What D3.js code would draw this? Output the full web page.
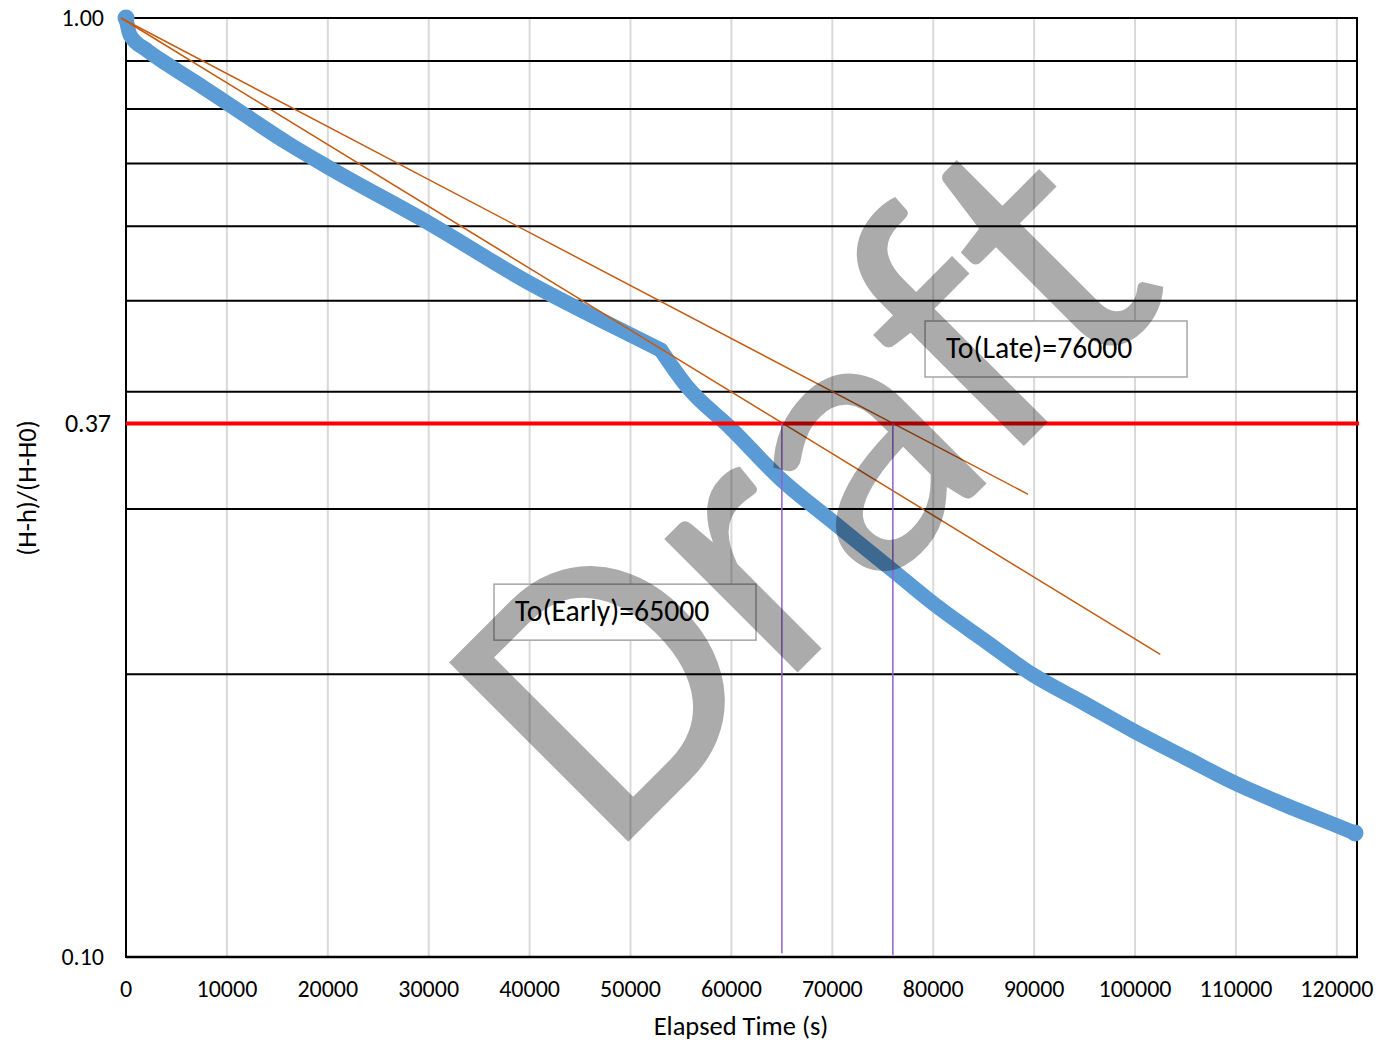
<!DOCTYPE html>
<html>
<head>
<meta charset="utf-8">
<script src="https://cdn.jsdelivr.net/npm/d3@7"></script>
<style>
  html, body { margin: 0; padding: 0; background: #ffffff; }
  svg { display: block; }
  text { font-family: Carlito, Calibri, Lato, sans-serif; fill: #000; }
</style>
</head>
<body>
<svg id="chart" width="1378" height="1045"></svg>
<script>
// ---------------- data ----------------
const timeS = [0, 400, 2080, 4360, 7630, 10000, 16000, 20000, 30000, 40000, 47700, 53000,
  55600, 59900, 65000, 70000, 76000, 80000, 85000, 89900, 94900, 99900, 105000, 110000,
  115000, 120000, 121800];
const ratio = [1.0, 0.959, 0.924, 0.889, 0.844, 0.812, 0.736, 0.694, 0.605, 0.522, 0.473, 0.443,
  0.405, 0.366, 0.322, 0.291, 0.258, 0.238, 0.2176, 0.1997, 0.1865, 0.174, 0.163, 0.153,
  0.145, 0.138, 0.1355];
const kinkIndex = 11;   // slope break at t = 53000 s

const xTickValues = [0, 10000, 20000, 30000, 40000, 50000, 60000, 70000, 80000, 90000, 100000, 110000, 120000];
const yGridValues = [0.2, 0.3, 0.4, 0.5, 0.6, 0.7, 0.8, 0.9, 1.0];
const yTickValues = [1.0, 0.37, 0.1];
const yTickLabels = ["1.00", "0.37", "0.10"];

const eFoldRatio = 0.37;
const t0Values = [65000, 76000];            // To(Early), To(Late)
const t0LineBottom = [0.1009, 0.1005];

const fitEarlyT = [-500, 102500];
const fitEarlyR = [1.0, 0.21];
const fitLateT = [-500, 89400];
const fitLateR = [1.0, 0.311];

const annotationLabels = ["To(Early)=65000", "To(Late)=76000"];
const annotationT = [36470, 79190];
const annotationR = [0.2495, 0.4757];

const xTitle = "Elapsed Time (s)";
const yTitle = "(H-h)/(H-H0)";
const watermark = "Draft";

// ---------------- layout ----------------
const svg = d3.select("#chart");
const pLeft = 126, pRight = 1357, pTop = 18, pBottom = 957;

const x = d3.scaleLinear().domain([0, 122000]).range([pLeft, pRight]);
const y = d3.scaleLog().domain([0.1, 1]).range([pBottom, pTop]);

// vertical grid
svg.append("g").selectAll("line").data(xTickValues.filter(d => d > 0)).join("line")
  .attr("x1", d => x(d)).attr("x2", d => x(d))
  .attr("y1", pTop).attr("y2", pBottom)
  .attr("stroke", "#d9d9d9").attr("stroke-width", 2);

// horizontal grid
svg.append("g").selectAll("line").data(yGridValues).join("line")
  .attr("x1", pLeft).attr("x2", pRight)
  .attr("y1", d => y(d)).attr("y2", d => y(d))
  .attr("stroke", "#000").attr("stroke-width", 2);

// frame: left axis, right edge, bottom axis
svg.append("line").attr("x1", pLeft).attr("x2", pLeft).attr("y1", pTop - 1).attr("y2", pBottom + 1)
  .attr("stroke", "#000").attr("stroke-width", 2);
svg.append("line").attr("x1", pRight).attr("x2", pRight).attr("y1", pTop - 1).attr("y2", pBottom + 1)
  .attr("stroke", "#000").attr("stroke-width", 2);
svg.append("line").attr("x1", pLeft).attr("x2", pRight + 1).attr("y1", pBottom).attr("y2", pBottom)
  .attr("stroke", "#000").attr("stroke-width", 2.5);

// x tick labels
svg.append("g").selectAll("text").data(xTickValues).join("text")
  .attr("x", d => x(d)).attr("y", 997)
  .attr("text-anchor", "middle").attr("font-size", 24)
  .text(d => d3.format("d")(d));

// y tick labels
svg.append("g").selectAll("text").data(yTickValues).join("text")
  .attr("x", (d, i) => i === 1 ? 111 : 104)
  .attr("y", (d, i) => y(d) + (i === 1 ? 9 : 8))
  .attr("text-anchor", "end").attr("font-size", (d, i) => i === 1 ? 26 : 24)
  .text((d, i) => yTickLabels[i]);

// axis titles
svg.append("text").attr("x", 741).attr("y", 1035).attr("text-anchor", "middle")
  .attr("font-size", 26.5).text(xTitle);
svg.append("text").attr("transform", "translate(36,488) rotate(-90)")
  .attr("text-anchor", "middle").attr("font-size", 26.5).text(yTitle);

// data curve (two smooth pieces meeting at the slope break)
const pts = timeS.map((t, i) => [t, ratio[i]]);
const line = d3.line().x(d => x(d[0])).y(d => y(d[1])).curve(d3.curveMonotoneX);
[pts.slice(0, kinkIndex + 1), pts.slice(kinkIndex)].forEach(seg => {
  svg.append("path").datum(seg).attr("d", line)
    .attr("fill", "none").attr("stroke", "#5b9bd5").attr("stroke-width", 15)
    .attr("stroke-linecap", "round").attr("stroke-linejoin", "round");
});
svg.append("circle").attr("cx", x(timeS[0])).attr("cy", y(ratio[0])).attr("r", 8.5).attr("fill", "#5b9bd5");
svg.append("circle").attr("cx", x(timeS[timeS.length - 1])).attr("cy", y(ratio[ratio.length - 1])).attr("r", 8.5).attr("fill", "#5b9bd5");

// fitted lines
[[fitEarlyT, fitEarlyR], [fitLateT, fitLateR]].forEach(([ts, rs]) => {
  svg.append("line")
    .attr("x1", x(ts[0])).attr("y1", y(rs[0]))
    .attr("x2", x(ts[1])).attr("y2", y(rs[1]))
    .attr("stroke", "#c55a11").attr("stroke-width", 1.5);
});

// 0.37 line
svg.append("line").attr("x1", pLeft).attr("x2", pRight + 2)
  .attr("y1", y(eFoldRatio)).attr("y2", y(eFoldRatio))
  .attr("stroke", "#ff0000").attr("stroke-width", 4);

// To vertical lines
svg.append("g").selectAll("line").data(t0Values).join("line")
  .attr("x1", d => x(d)).attr("x2", d => x(d))
  .attr("y1", y(eFoldRatio)).attr("y2", (d, i) => y(t0LineBottom[i]))
  .attr("stroke", "#8e63ce").attr("stroke-width", 1.5);

// annotation boxes
annotationLabels.forEach((lab, i) => {
  const bx = x(annotationT[i]), by = y(annotationR[i]);
  svg.append("rect").attr("x", bx).attr("y", by).attr("width", 262).attr("height", 56)
    .attr("fill", "#fff").attr("stroke", "#a6a6a6").attr("stroke-width", 1.5);
  svg.append("text").attr("x", bx + 21).attr("y", by + 37).attr("font-size", 29.7).text(lab);
});

// watermark
svg.append("text")
  .attr("transform", "translate(893,577) rotate(-45)")
  .attr("text-anchor", "middle")
  .attr("font-size", 395)
  .attr("letter-spacing", -2)
  .style("fill", "#000").style("fill-opacity", 0.33)
  .text(watermark);
</script>
</body>
</html>
